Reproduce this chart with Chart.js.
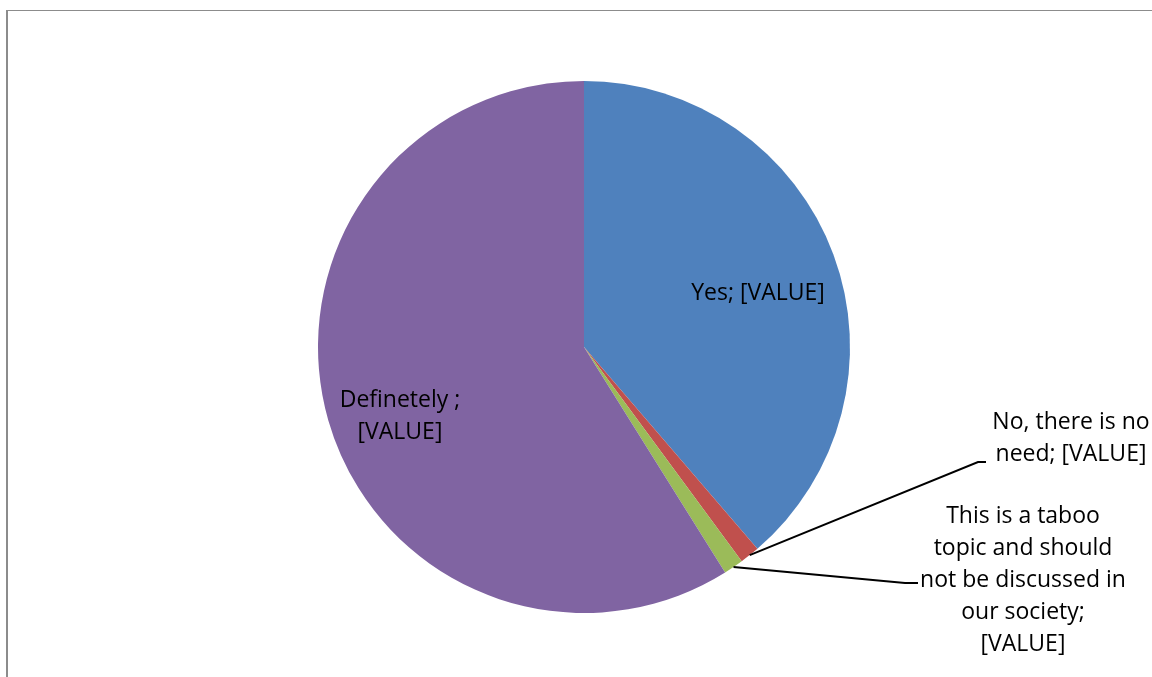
<!DOCTYPE html>
<html>
<head>
<meta charset="utf-8">
<script src="https://cdn.jsdelivr.net/npm/chart.js@4/dist/chart.umd.min.js"></script>
<style>
  html, body { margin: 0; padding: 0; background: #fff; overflow: hidden; }
  #wrap { position: relative; width: 1152px; height: 677px; }
  #frame { position: absolute; left: 6px; top: 10px; width: 1200px; height: 700px;
           border-top: 1px solid #8c8c8c; border-left: 2px solid #8c8c8c; }
  canvas { position: absolute; left: 0; top: 0; }
</style>
</head>
<body>
<div id="wrap">
  <div id="frame"></div>
  <canvas id="pie" width="1152" height="677"></canvas>
</div>
<script>
// Survey answers and their shares (percent)
const categories = ['Yes', 'No, there is no need', 'This is a taboo topic and should not be discussed in our society', 'Definetely '];
const shares = [38.7, 1.2, 1.2, 58.9];
const sliceColors = ['#4F81BD', '#C0504D', '#9BBB59', '#8064A2'];

// Label text per slice, split into lines
const labelLines = [
  ['Yes; [VALUE]'],
  ['No, there is no', 'need; [VALUE]'],
  ['This is a taboo', 'topic and should', 'not be discussed in', 'our society;', '[VALUE]'],
  ['Definetely ;', '[VALUE]']
];

// Where each label sits, relative to the pie centre (in px), plus leader-line elbows
const labelSpots = [
  { x: 174, y: -54, leader: null },
  { x: 487, y: 91, leader: [[394, 115], [402, 115]] },
  { x: 439, y: 233, leader: [[321, 236], [334, 236]] },
  { x: -184, y: 69, leader: null }
];

const labelPlugin = {
  id: 'sliceLabels',
  afterDatasetsDraw(chart) {
    const ctx = chart.ctx;
    const arcs = chart.getDatasetMeta(0).data;
    ctx.save();
    ctx.font = '23px "Open Sans", sans-serif';
    ctx.fillStyle = '#000';
    ctx.textAlign = 'center';
    ctx.textBaseline = 'middle';
    const lineH = 32;
    arcs.forEach((arc, i) => {
      const p = arc.getProps(['x', 'y', 'startAngle', 'endAngle', 'outerRadius'], true);
      const spot = labelSpots[i];
      if (spot.leader) {
        const mid = (p.startAngle + p.endAngle) / 2;
        ctx.beginPath();
        ctx.strokeStyle = '#000';
        ctx.lineWidth = 2;
        ctx.moveTo(p.x + Math.cos(mid) * p.outerRadius, p.y + Math.sin(mid) * p.outerRadius);
        spot.leader.forEach(([lx, ly]) => ctx.lineTo(p.x + lx, p.y + ly));
        ctx.stroke();
      }
      const lines = labelLines[i];
      const top = p.y + spot.y - (lines.length - 1) * lineH / 2;
      lines.forEach((t, k) => ctx.fillText(t, p.x + spot.x, top + k * lineH));
    });
    ctx.restore();
  }
};

new Chart(document.getElementById('pie'), {
  type: 'pie',
  data: {
    labels: categories,
    datasets: [{
      data: shares,
      backgroundColor: sliceColors,
      borderWidth: 0
    }]
  },
  options: {
    responsive: false,
    animation: false,
    layout: { padding: { top: 81, bottom: 64, left: 318, right: 302 } },
    plugins: {
      legend: { display: false },
      tooltip: { enabled: false }
    }
  },
  plugins: [labelPlugin]
});
</script>
</body>
</html>
